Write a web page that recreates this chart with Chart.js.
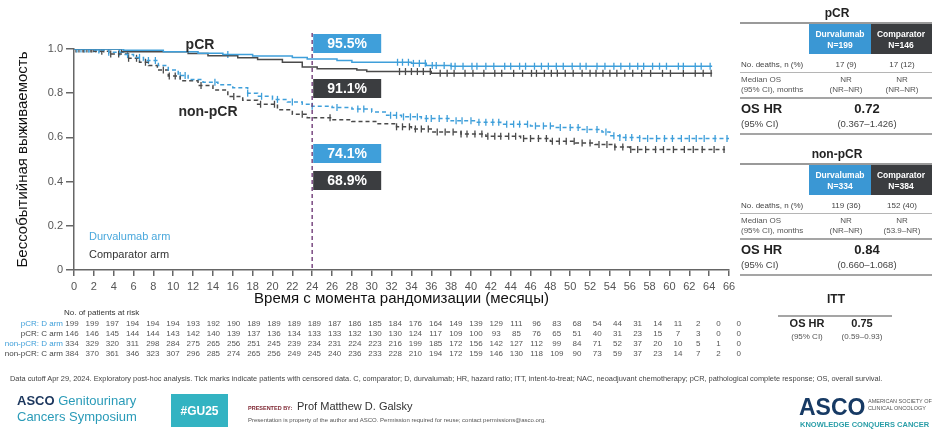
<!DOCTYPE html>
<html>
<head>
<meta charset="utf-8">
<script src="https://cdn.jsdelivr.net/npm/chart.js@4.4.0/dist/chart.umd.min.js"></script>
<style>
  body { margin: 0; background: #fff; font-family: 'Liberation Sans', Arial, sans-serif; }
  #wrap { position: relative; width: 932px; height: 429px; overflow: hidden; background: #fff; }
  #chartBox { position: absolute; left: 0; top: 0; width: 932px; height: 429px; }
  .t { position: absolute; white-space: nowrap; }
  .n { font-family: 'Liberation Sans Narrow', 'Liberation Sans', Arial, sans-serif; }
  .b { position: absolute; }
</style>
</head>
<body>
<div id="wrap">
  <div id="chartBox"><canvas id="km"></canvas></div>
</div>
<script>
// Kaplan-Meier steps: [month, survival]
var pcrDurva = [[0,1],[5,0.994],[9,0.988],[12.5,0.981],[15,0.975],[18,0.968],[22,0.962],[23.5,0.955],
  [26.5,0.948],[28,0.94],[34,0.935],[35.5,0.925],[38,0.922],[64.3,0.922]];
var pcrComp = [[0,1],[4.8,0.988],[11.5,0.98],[13.5,0.97],[16.5,0.96],[18.5,0.952],[21,0.94],[23,0.918],
  [24.5,0.911],[28.5,0.905],[29.5,0.898],[36,0.89],[64.3,0.89]];
var nonDurva = [[0,1],[2,0.995],[3.5,0.985],[5,0.975],[6,0.962],[7,0.948],[8.5,0.925],[9.5,0.905],[10.5,0.88],
  [11.5,0.862],[13,0.85],[14.5,0.838],[16,0.825],[17.5,0.8],[18.5,0.786],[20,0.772],[21.5,0.76],[23,0.75],
  [24,0.741],[26,0.735],[28,0.728],[30,0.715],[31.5,0.7],[33,0.693],[35,0.686],[38,0.675],[40.5,0.668],
  [43,0.66],[46,0.652],[48.5,0.645],[51,0.636],[53.2,0.625],[54,0.607],[55,0.6],[57,0.595],[66,0.595]];
var nonComp = [[0,1],[2,0.99],[3.5,0.977],[5.5,0.958],[6.6,0.94],[7.5,0.925],[8.4,0.905],[9.5,0.878],
  [10.7,0.856],[12.5,0.835],[14,0.815],[15.5,0.785],[17,0.768],[18.5,0.75],[20.5,0.725],[22,0.705],
  [23.5,0.689],[26,0.68],[28,0.672],[30.5,0.662],[32.5,0.648],[34,0.638],[36,0.625],[39,0.615],[41.5,0.605],
  [45,0.595],[48,0.583],[50.5,0.575],[52.5,0.568],[54.5,0.556],[56,0.545],[65.6,0.545]];

// censored patients (months)
var pcrDurvaCens = [0.3,0.7,1.1,1.5,2,2.6,15.5,32.6,33.1,33.7,34.2,34.8,35.4,36.1,36.5,37.3,38,38.4,39.2,40.1,
  40.6,41.5,42.3,43.4,44,44.9,45.5,46.4,47.1,47.8,48.6,49.3,50.2,51,51.6,52.7,53.5,54.4,55.1,56,56.8,57.4,
  58.3,59,59.7,60.9,61.4,62.6,63.2,64.1];
var pcrCompCens = [0.2,0.5,0.9,1.3,1.7,2.2,3,32.8,33.4,34,34.6,35.2,35.9,36.9,37.6,38.3,39.4,40.2,41.3,42.4,
  43.1,44.3,45.2,46.1,46.6,47.4,48.1,48.7,49.5,50.3,51.2,52,52.6,53.3,54,54.7,55.5,56.3,57.2,58.1,59.3,60.1,
  61.4,62.6,63.4,64.2];
var nonDurvaCens = [1.5,2.5,3.5,4.6,5.4,6.6,7.5,8.2,10.7,11.2,14.2,17.5,18.9,20.5,22,24,26.5,28.6,29.2,31.9,
  32.5,33.2,33.9,34.6,35.5,36,36.8,37.6,38.5,39.1,40,40.8,41.5,42.2,42.8,43.6,44.3,44.9,45.7,46.5,47.3,48,
  49,50,50.8,51.7,52.7,53.6,54.4,55,55.6,56.2,57,57.8,58.7,59.5,60.3,61.2,62,62.7,63.5,64.6,65.8];
var nonCompCens = [1,1.8,2.8,3.7,4.5,5.5,6.3,7.2,9,9.6,10.2,12.8,16.1,18.8,20.2,23,25.8,32.5,33.1,33.8,34.4,
  35,35.7,36.6,37.4,38.2,39,39.6,40.4,41.1,41.7,42.4,43,43.8,44.5,45.3,46,46.8,47.6,48.2,48.9,49.6,50.4,
  51.2,52,52.9,53.7,54.5,55.3,56.1,56.8,57.6,58.6,59.4,60.4,61.5,62.4,63.3,64.5,65.5];

var landmark = 24;
var landmarkLabels = ['95.5%', '91.1%', '74.1%', '68.9%'];

// patients at risk, every 2 months from 0 to 66
var riskLabels = ['pCR: D arm', 'pCR: C arm', 'non-pCR: D arm', 'non-pCR: C arm'];
var riskPcrD = [199,199,197,194,194,194,193,192,190,189,189,189,189,187,186,185,184,176,164,149,139,129,111,96,83,68,54,44,31,14,11,2,0,0];
var riskPcrC = [146,146,145,144,144,143,142,140,139,137,136,134,133,133,132,130,130,124,117,109,100,93,85,76,65,51,40,31,23,15,7,3,0,0];
var riskNonD = [334,329,320,311,298,284,275,265,256,251,245,239,234,231,224,223,216,199,185,172,156,142,127,112,99,84,71,52,37,20,10,5,1,0];
var riskNonC = [384,370,361,346,323,307,296,285,274,265,256,249,245,240,236,233,228,210,194,172,159,146,130,118,109,90,73,59,37,23,14,7,2,0];

var BLUE = '#3f9fda';
var GREY = '#4a4a4a';

function toXY(steps) {
  var out = [];
  for (var i = 0; i < steps.length; i++) {
    out.push({ x: steps[i][0], y: steps[i][1] });
  }
  return out;
}

function survAt(steps, t) {
  var s = steps[0][1];
  for (var i = 0; i < steps.length; i++) {
    if (steps[i][0] <= t) s = steps[i][1];
  }
  return s;
}

function censPoints(steps, times) {
  var out = [];
  for (var i = 0; i < times.length; i++) {
    out.push({ x: times[i], y: survAt(steps, times[i]) });
  }
  return out;
}

function curve(label, steps, color, dash) {
  return {
    label: label,
    data: toXY(steps),
    stepped: true,
    borderColor: color,
    borderWidth: 1.5,
    borderDash: dash,
    pointRadius: 0,
    fill: false
  };
}

function marks(label, steps, times, color) {
  return {
    label: label,
    data: censPoints(steps, times),
    showLine: false,
    pointStyle: 'line',
    rotation: 90,
    pointRadius: 3.5,
    pointBorderWidth: 1.3,
    pointBorderColor: color,
    borderColor: color
  };
}

var overlay = {
  id: 'overlay',
  afterDatasetsDraw: function(chart) {
    var ctx = chart.ctx;
    var xs = chart.scales.x;
    var area = chart.chartArea;
    var x24 = xs.getPixelForValue(landmark);
    ctx.save();

    ctx.strokeStyle = '#7b4a82';
    ctx.lineWidth = 1.5;
    ctx.setLineDash([4, 3]);
    ctx.beginPath();
    ctx.moveTo(x24, 33);
    ctx.lineTo(x24, area.bottom);
    ctx.stroke();
    ctx.setLineDash([]);

    var tops = [34, 79, 144, 171];
    var fills = [BLUE, '#3b3d40', BLUE, '#3b3d40'];
    ctx.font = 'bold 14px "Liberation Sans", Arial, sans-serif';
    ctx.textAlign = 'center';
    ctx.textBaseline = 'middle';
    for (var i = 0; i < tops.length; i++) {
      ctx.fillStyle = fills[i];
      ctx.fillRect(x24 + 1, tops[i], 68, 19);
      ctx.fillStyle = '#fff';
      ctx.fillText(landmarkLabels[i], x24 + 35, tops[i] + 10);
    }

    ctx.fillStyle = '#2b2b2b';
    ctx.fillText('pCR', 200, 45);
    ctx.fillText('non-pCR', 208, 112);

    ctx.font = '11px "Liberation Sans", Arial, sans-serif';
    ctx.textAlign = 'left';
    ctx.fillStyle = '#4aa8dc';
    ctx.fillText('Durvalumab arm', 89, 237);
    ctx.fillStyle = '#333';
    ctx.fillText('Comparator arm', 89, 255);
    ctx.restore();
  },
  afterDraw: function(chart) {
    var ctx = chart.ctx;
    ctx.save();
    ctx.font = '8px "Liberation Sans", Arial, sans-serif';
    ctx.textBaseline = 'middle';
    ctx.fillStyle = '#333';
    ctx.textAlign = 'left';
    ctx.fillText('No. of patients at risk', 64, 313);

    var rows = [riskPcrD, riskPcrC, riskNonD, riskNonC];
    var rowColors = [BLUE, '#444', BLUE, '#444'];
    var rowY = [324, 334, 344, 354];
    for (var r = 0; r < rows.length; r++) {
      ctx.textAlign = 'right';
      ctx.fillStyle = rowColors[r];
      ctx.fillText(riskLabels[r], 63, rowY[r]);
      ctx.textAlign = 'center';
      ctx.fillStyle = '#555';
      for (var c = 0; c < rows[r].length; c++) {
        ctx.fillText(String(rows[r][c]), 72 + c * 20.2, rowY[r]);
      }
    }
    ctx.restore();
  }
};

Chart.defaults.font.family = '"Liberation Sans", Arial, sans-serif';

new Chart(document.getElementById('km').getContext('2d'), {
  type: 'line',
  data: {
    datasets: [
      curve('pCR D', pcrDurva, BLUE, []),
      curve('pCR C', pcrComp, GREY, []),
      curve('non-pCR D', nonDurva, BLUE, [4, 3]),
      curve('non-pCR C', nonComp, GREY, [4, 3]),
      marks('pCR D censored', pcrDurva, pcrDurvaCens, BLUE),
      marks('pCR C censored', pcrComp, pcrCompCens, GREY),
      marks('non-pCR D censored', nonDurva, nonDurvaCens, BLUE),
      marks('non-pCR C censored', nonComp, nonCompCens, GREY)
    ]
  },
  options: {
    responsive: true,
    maintainAspectRatio: false,
    animation: false,
    layout: { padding: { left: 0, top: 49, right: 203, bottom: 121 } },
    plugins: {
      legend: { display: false },
      tooltip: { enabled: false }
    },
    scales: {
      x: {
        type: 'linear',
        min: 0,
        max: 66,
        afterFit: function(scale) { scale.height = 38; },
        ticks: { stepSize: 2, autoSkip: false, maxRotation: 0, padding: 4, color: '#555', font: { size: 11 } },
        grid: { drawOnChartArea: false, tickLength: 6, color: '#666', lineWidth: 1.5 },
        border: { color: '#666', width: 1.5 },
        title: {
          display: true,
          text: 'Время с момента рандомизации (месяцы)',
          color: '#111',
          font: { size: 15 },
          padding: { top: 0, bottom: 0 }
        }
      },
      y: {
        min: 0,
        max: 1,
        afterFit: function(scale) { scale.width = 74; },
        ticks: {
          stepSize: 0.2,
          padding: 3,
          color: '#555',
          font: { size: 11 },
          callback: function(v) { return v === 0 ? '0' : v.toFixed(1); }
        },
        grid: { drawOnChartArea: false, tickLength: 8, color: '#666', lineWidth: 1.5 },
        border: { color: '#666', width: 1.5 },
        title: {
          display: true,
          text: 'Бессобытийная выживаемость',
          color: '#111',
          font: { size: 15 },
          padding: { top: 14, bottom: 0 }
        }
      }
    }
  },
  plugins: [overlay]
});

// side tables and slide footer
var wrap = document.getElementById('wrap');

function put(text, x, y, size, color, weight, align, cls) {
  var el = document.createElement('div');
  el.className = 't' + (cls ? ' ' + cls : '');
  el.textContent = text;
  el.style.fontSize = size + 'px';
  el.style.lineHeight = (size * 1.2) + 'px';
  el.style.top = (y - size * 0.6) + 'px';
  el.style.left = x + 'px';
  el.style.color = color || '#333';
  if (weight) el.style.fontWeight = weight;
  if (align === 'c') el.style.transform = 'translateX(-50%)';
  if (align === 'r') el.style.transform = 'translateX(-100%)';
  wrap.appendChild(el);
  return el;
}

function rect(x, y, w, h, color) {
  var el = document.createElement('div');
  el.className = 'b';
  el.style.left = x + 'px';
  el.style.top = y + 'px';
  el.style.width = w + 'px';
  el.style.height = h + 'px';
  el.style.background = color;
  wrap.appendChild(el);
}

function sideTable(y0, title, nD, nC, deaths, medians, hr, ci) {
  put(title, 837, y0 + 13, 12, '#222', 'bold', 'c');
  rect(740, y0 + 22, 192, 2, '#9a9a9a');
  rect(809, y0 + 24, 62, 30, '#3a97d4');
  rect(871, y0 + 24, 61, 30, '#3b3d40');
  put('Durvalumab', 840, y0 + 34, 8.5, '#fff', 'bold', 'c', 'n');
  put(nD, 840, y0 + 45, 8.5, '#fff', 'bold', 'c', 'n');
  put('Comparator', 901, y0 + 34, 8.5, '#fff', 'bold', 'c', 'n');
  put(nC, 901, y0 + 45, 8.5, '#fff', 'bold', 'c', 'n');

  put('No. deaths, n (%)', 741, y0 + 65, 8, '#444', null, null, 'n');
  put(deaths[0], 846, y0 + 65, 8, '#444', null, 'c', 'n');
  put(deaths[1], 902, y0 + 65, 8, '#444', null, 'c', 'n');
  rect(740, y0 + 72, 192, 1, '#b5b5b5');

  put('Median OS', 741, y0 + 80, 8, '#555', null, null, 'n');
  put('(95% CI), months', 741, y0 + 90, 8, '#555', null, null, 'n');
  put('NR', 846, y0 + 80, 8, '#555', null, 'c', 'n');
  put(medians[0], 846, y0 + 90, 8, '#555', null, 'c', 'n');
  put('NR', 902, y0 + 80, 8, '#555', null, 'c', 'n');
  put(medians[1], 902, y0 + 90, 8, '#555', null, 'c', 'n');
  rect(740, y0 + 97, 192, 2, '#a5a5a5');

  put('OS HR', 741, y0 + 109, 13, '#222', 'bold');
  put(hr, 867, y0 + 109, 13, '#222', 'bold', 'c');
  put('(95% CI)', 741, y0 + 124, 9.5, '#444');
  put(ci, 867, y0 + 124, 9.5, '#444', null, 'c');
  rect(740, y0 + 133, 192, 2, '#a5a5a5');
}

sideTable(0, 'pCR', 'N=199', 'N=146', ['17 (9)', '17 (12)'], ['(NR–NR)', '(NR–NR)'], '0.72', '(0.367–1.426)');
sideTable(141, 'non-pCR', 'N=334', 'N=384', ['119 (36)', '152 (40)'], ['(NR–NR)', '(53.9–NR)'], '0.84', '(0.660–1.068)');

put('ITT', 836, 299, 12, '#222', 'bold', 'c');
rect(778, 315, 114, 2, '#a5a5a5');
put('OS HR', 807, 324, 11, '#222', 'bold', 'c');
put('0.75', 862, 324, 11, '#222', 'bold', 'c');
put('(95% CI)', 807, 337, 8, '#555', null, 'c', 'n');
put('(0.59–0.93)', 862, 337, 8, '#555', null, 'c', 'n');

put('Data cutoff Apr 29, 2024. Exploratory post-hoc analysis. Tick marks indicate patients with censored data. C, comparator; D, durvalumab; HR, hazard ratio; ITT, intent-to-treat; NAC, neoadjuvant chemotherapy; pCR, pathological complete response; OS, overall survival.',
  10, 379, 7.4, '#444', null, null, 'n');

var asco = put('', 17, 401, 13, '#2a9bb8', null, null, 'n');
asco.innerHTML = '<b style="color:#1b365d">ASCO</b> Genitourinary';
put('Cancers Symposium', 17, 417, 13, '#2a9bb8', null, null, 'n');

rect(171, 394, 57, 33, '#33b3c2');
put('#GU25', 199.5, 411, 12, '#fff', 'bold', 'c');

put('PRESENTED BY:', 248, 408, 5.5, '#7a1f2b', 'bold');
put('Prof Matthew D. Galsky', 297, 407, 11, '#333', null, null, 'n');
put('Presentation is property of the author and ASCO. Permission required for reuse; contact permissions@asco.org.',
  248, 421, 6, '#555', null, null, 'n');

put('ASCO', 799, 408, 23, '#173a64', 'bold');
put('AMERICAN SOCIETY OF', 868, 401, 5.5, '#555');
put('CLINICAL ONCOLOGY', 868, 408, 5.5, '#555');
put('KNOWLEDGE CONQUERS CANCER', 800, 424, 7.5, '#2a9ea8', 'bold', null, 'n');
</script>
</body>
</html>
